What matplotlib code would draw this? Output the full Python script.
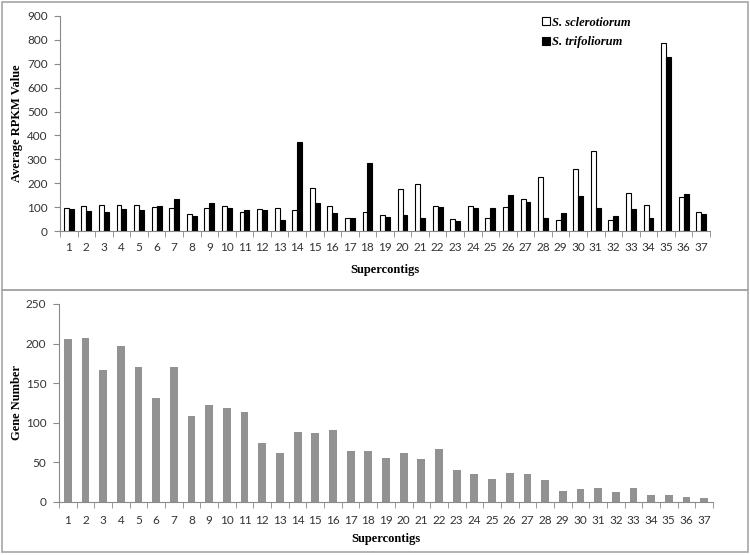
import numpy as np
import matplotlib
matplotlib.use("Agg")
import matplotlib.pyplot as plt
from matplotlib.patches import Rectangle
from matplotlib.ticker import FixedLocator

# supercontig ids
contigs = list(range(1, 38))

# average RPKM values
rpkm_scl = [95, 106, 110, 110, 109, 99, 95, 70, 95, 103,
            78, 91, 95, 87, 180, 103, 56, 80, 67, 176,
            197, 103, 52, 103, 56, 99, 133, 226, 45, 261,
            335, 47, 158, 109, 788, 141, 80]
rpkm_tri = [91, 84, 80, 91, 87, 106, 134, 64, 116, 95,
            87, 88, 45, 371, 119, 77, 56, 286, 60, 68,
            56, 99, 40, 95, 95, 149, 123, 56, 75, 145,
            95, 63, 91, 53, 727, 153, 73]

# gene numbers per supercontig
genes = [206, 207, 167, 197, 171, 131, 171, 108, 123, 119,
         114, 74, 62, 89, 87, 91, 65, 65, 55, 62,
         54, 67, 40, 35, 29, 37, 35, 28, 14, 17,
         18, 12, 18, 9, 9, 6, 5]

tick_font = "Lato"
label_font = "Liberation Serif"
axis_col = "#8a8a8a"
txt_col = "#333333"

fig = plt.figure(figsize=(7.5, 5.55), dpi=100)

# panel frames
fig.patches.append(Rectangle((2 / 750, 1 - 290 / 555), 746 / 750, 288 / 555,
                             transform=fig.transFigure, fill=False,
                             edgecolor="#a6a6a6", linewidth=1.2))
fig.patches.append(Rectangle((2 / 750, 1 - 552 / 555), 746 / 750, 262 / 555,
                             transform=fig.transFigure, fill=False,
                             edgecolor="#a6a6a6", linewidth=1.2))


def style_axis(ax, x, ymax, ystep, pad_x):
    ax.set_xlim(0.5, len(x) + 0.5)
    ax.set_ylim(0, ymax)
    ax.set_yticks(np.arange(0, ymax + 1, ystep))
    ax.set_xticks(x)
    ax.set_xticklabels([str(v) for v in x])
    ax.xaxis.set_minor_locator(FixedLocator(np.arange(0.5, len(x) + 1, 1)))
    ax.tick_params(axis="x", which="major", length=0, pad=pad_x)
    ax.tick_params(axis="x", which="minor", length=4, color=axis_col, direction="out")
    ax.tick_params(axis="y", length=4, color=axis_col, direction="out", pad=5)
    for sp in ["top", "right"]:
        ax.spines[sp].set_visible(False)
    for sp in ["left", "bottom"]:
        ax.spines[sp].set_color(axis_col)
    for lab in ax.get_xticklabels() + ax.get_yticklabels():
        lab.set_fontfamily(tick_font)
        lab.set_fontsize(8.5)
        lab.set_color(txt_col)


# top: average RPKM
ax1 = fig.add_axes([60 / 750, 1 - 231 / 555, 650 / 750, 215 / 555])
x = np.array(contigs)
w = 0.28
ax1.bar(x - w / 2, rpkm_scl, w, color="white", edgecolor="black", linewidth=0.8,
        label="S. sclerotiorum")
ax1.bar(x + w / 2, rpkm_tri, w, color="black", edgecolor="black", linewidth=0.8,
        label="S. trifoliorum")
style_axis(ax1, contigs, 900, 100, 8)
ax1.set_ylabel("Average RPKM Value", fontfamily=label_font, fontweight="bold",
               fontsize=9)
ax1.yaxis.set_label_coords(-0.057, 0.5)
ax1.set_xlabel("Supercontigs", fontfamily=label_font, fontweight="bold", fontsize=9)
ax1.xaxis.set_label_coords(0.5, -0.155)
ax1.legend(loc="upper left", bbox_to_anchor=(0.708, 0.99), bbox_transform=fig.transFigure,
           frameon=False, handlelength=0.6, handleheight=0.6, handletextpad=0.2,
           labelspacing=0.6,
           prop={"family": label_font, "weight": "bold", "style": "italic", "size": 9})

# bottom: gene numbers
ax2 = fig.add_axes([59 / 750, 1 - 502 / 555, 654 / 750, 198 / 555])
ax2.bar(x, genes, 0.44, color="#929292")
style_axis(ax2, contigs, 250, 50, 9)
ax2.set_ylabel("Gene Number", fontfamily=label_font, fontweight="bold", fontsize=9)
ax2.yaxis.set_label_coords(-0.055, 0.5)
ax2.set_xlabel("Supercontigs", fontfamily=label_font, fontweight="bold", fontsize=9)
ax2.xaxis.set_label_coords(0.5, -0.155)

fig.savefig("out.png", dpi=100)
